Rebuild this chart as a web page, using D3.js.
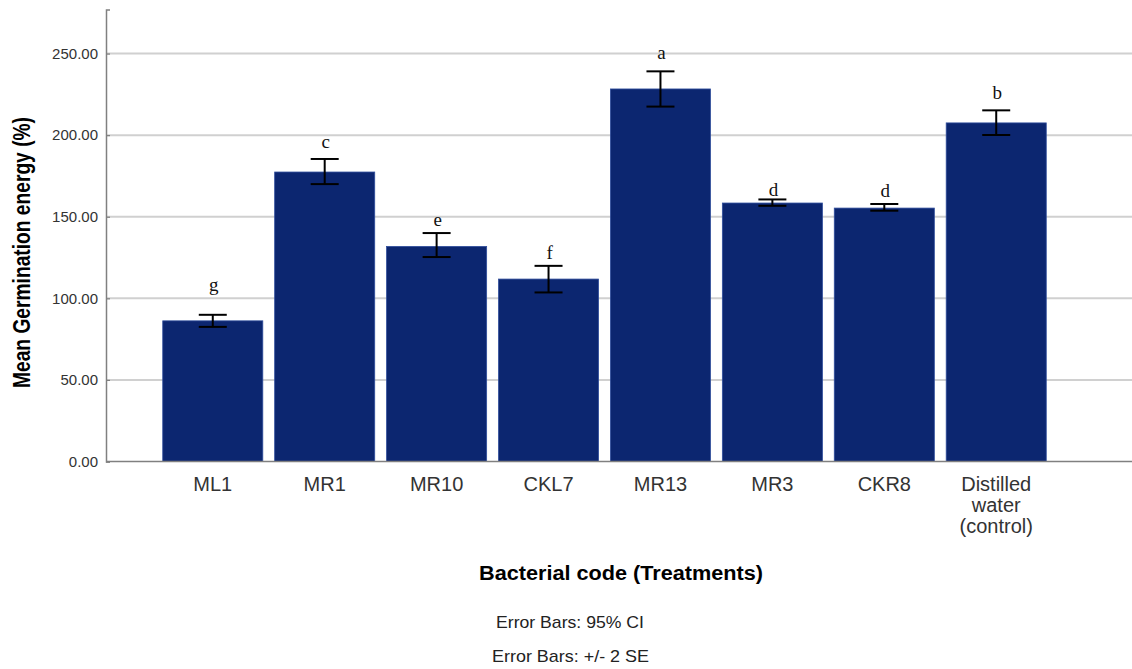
<!DOCTYPE html>
<html>
<head>
<meta charset="utf-8">
<script src="https://cdn.jsdelivr.net/npm/d3@7"></script>
<style>
  html, body { margin: 0; padding: 0; background: #fff; }
  svg { display: block; }
</style>
</head>
<body>
<svg id="chart" width="1132" height="669"></svg>
<script>
// Treatments and their mean germination energy with 95% CI bounds
const categories = ["ML1", "MR1", "MR10", "CKL7", "MR13", "MR3", "CKR8", "Distilled water (control)"];
const labelLines = [["ML1"], ["MR1"], ["MR10"], ["CKL7"], ["MR13"], ["MR3"], ["CKR8"], ["Distilled", "water", "(control)"]];
const means = [86.2, 177.4, 131.8, 111.8, 228.3, 158.4, 155.3, 207.5];
const ciLow = [82.5, 170.0, 125.3, 103.6, 217.5, 156.7, 153.7, 200.1];
const ciHigh = [89.9, 185.4, 140.0, 119.9, 239.1, 160.6, 157.8, 215.2];
const groupLetters = ["g", "c", "e", "f", "a", "d", "d", "b"];
const yTicks = [0, 50, 100, 150, 200, 250];

// gap in px between the upper CI cap and each significance letter
const letterLift = [24, 11, 7, 7, 12, 3, 7, 11];

const svg = d3.select("#chart");
const plot = { left: 106, right: 1132, top: 9.5, bottom: 461.5 };

const x = d3.scaleBand()
  .domain(categories)
  .range([plot.left, 1103])
  .paddingInner(0.106)
  .paddingOuter(0.507);

const y = d3.scaleLinear()
  .domain([0, 277])
  .range([plot.bottom, plot.top]);

// horizontal gridlines
svg.append("g")
  .selectAll("line")
  .data(yTicks.filter(d => d > 0))
  .join("line")
  .attr("x1", plot.left).attr("x2", plot.right)
  .attr("y1", d => y(d)).attr("y2", d => y(d))
  .attr("stroke", "#d0d0d0")
  .attr("stroke-width", 2);

// y axis
const yAxis = svg.append("g")
  .attr("transform", `translate(${plot.left},0)`)
  .call(d3.axisLeft(y).tickValues(yTicks).tickFormat(d3.format(".2f")).tickSize(-4).tickPadding(8));
yAxis.select(".domain").attr("stroke", "#808080").attr("stroke-width", 1.5);
yAxis.selectAll(".tick line").attr("stroke", "#808080").attr("stroke-width", 1.2);
yAxis.selectAll(".tick text")
  .attr("font-family", "'Liberation Sans', Arial, sans-serif")
  .attr("font-size", 15)
  .attr("fill", "#333");

// bars
const rows = categories.map((c, i) => ({ c, m: means[i], lo: ciLow[i], hi: ciHigh[i], g: groupLetters[i], lift: letterLift[i], lines: labelLines[i] }));

svg.append("g")
  .selectAll("rect")
  .data(rows)
  .join("rect")
  .attr("x", d => x(d.c))
  .attr("width", x.bandwidth())
  .attr("y", d => y(d.m))
  .attr("height", d => y(0) - y(d.m))
  .attr("fill", "#0c2670")
  .attr("stroke", "#2f4d9c")
  .attr("stroke-width", 0.8);

// x axis baseline
svg.append("line")
  .attr("x1", plot.left).attr("x2", plot.right)
  .attr("y1", y(0)).attr("y2", y(0))
  .attr("stroke", "#808080").attr("stroke-width", 1.5);

// error bars (95% CI)
const capHalf = 14;
const eb = svg.append("g").attr("stroke", "#000").attr("stroke-width", 2);
rows.forEach(d => {
  const cx = x(d.c) + x.bandwidth() / 2;
  eb.append("line").attr("x1", cx).attr("x2", cx).attr("y1", y(d.hi)).attr("y2", y(d.lo));
  eb.append("line").attr("x1", cx - capHalf).attr("x2", cx + capHalf).attr("y1", y(d.hi)).attr("y2", y(d.hi));
  eb.append("line").attr("x1", cx - capHalf).attr("x2", cx + capHalf).attr("y1", y(d.lo)).attr("y2", y(d.lo));
});

// significance letters
svg.append("g")
  .selectAll("text")
  .data(rows)
  .join("text")
  .attr("x", d => x(d.c) + x.bandwidth() / 2 + 1)
  .attr("y", d => y(d.hi) - d.lift)
  .attr("text-anchor", "middle")
  .attr("font-family", "'Liberation Serif', 'Times New Roman', serif")
  .attr("font-size", 19)
  .attr("fill", "#111")
  .text(d => d.g);

// category labels
const xl = svg.append("g")
  .attr("font-family", "'Liberation Sans', Arial, sans-serif")
  .attr("font-size", 20)
  .attr("fill", "#333")
  .attr("text-anchor", "middle");
rows.forEach(d => {
  const t = xl.append("text").attr("x", x(d.c) + x.bandwidth() / 2).attr("y", 491);
  d.lines.forEach((ln, k) => {
    t.append("tspan").attr("x", x(d.c) + x.bandwidth() / 2).attr("dy", k === 0 ? 0 : 21).text(ln);
  });
});

// axis titles
svg.append("text")
  .attr("transform", "translate(29.5,252.5) rotate(-90)")
  .attr("text-anchor", "middle")
  .attr("font-family", "'Liberation Sans Narrow', 'Arial Narrow', 'Liberation Sans', Arial, sans-serif")
  .attr("font-weight", "bold")
  .attr("font-size", 24)
  .attr("fill", "#000")
  .attr("textLength", 271)
  .attr("lengthAdjust", "spacingAndGlyphs")
  .text("Mean Germination energy (%)");

svg.append("text")
  .attr("x", 621).attr("y", 580)
  .attr("text-anchor", "middle")
  .attr("font-family", "'Liberation Sans', Arial, sans-serif")
  .attr("font-weight", "bold")
  .attr("font-size", 20)
  .attr("fill", "#000")
  .attr("textLength", 284)
  .attr("lengthAdjust", "spacingAndGlyphs")
  .text("Bacterial code (Treatments)");

// footnotes
const notes = [
  { t: "Error Bars: 95% CI", cx: 570, y: 628, w: 148 },
  { t: "Error Bars: +/- 2 SE", cx: 570.5, y: 661.5, w: 157 }
];
svg.append("g")
  .selectAll("text")
  .data(notes)
  .join("text")
  .attr("x", d => d.cx).attr("y", d => d.y)
  .attr("text-anchor", "middle")
  .attr("font-family", "'Liberation Sans', Arial, sans-serif")
  .attr("font-size", 17)
  .attr("fill", "#222")
  .attr("textLength", d => d.w)
  .attr("lengthAdjust", "spacingAndGlyphs")
  .text(d => d.t);
</script>
</body>
</html>
